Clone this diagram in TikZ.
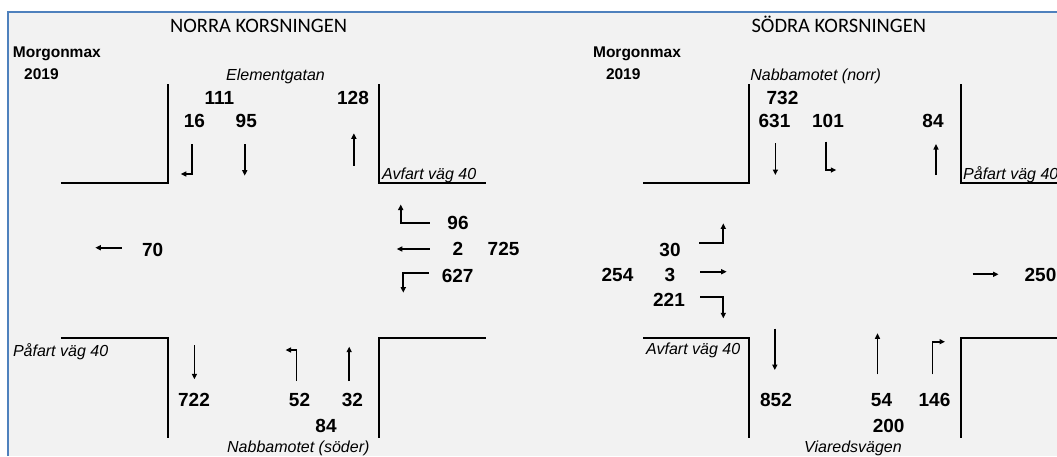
\documentclass[tikz,border=0pt]{standalone}
\usepackage{fontspec}
\setmainfont{Liberation Sans}
\newfontfamily\headfont{Carlito}
\usetikzlibrary{arrows.meta,positioning}
\tikzset{>={Triangle[width=5pt,length=5.5pt]}}
\tikzset{num/.style={font=\fontsize{19}{19}\selectfont\bfseries, inner sep=0pt,
    text height=13.6pt, text depth=0pt}}
\tikzset{tag/.style={font=\fontsize{15.5}{16}\selectfont\bfseries, inner sep=0pt,
    anchor=west, text height=11.1pt, text depth=0pt}}
\tikzset{street/.style={font=\fontsize{16}{16}\selectfont\itshape, inner sep=0pt,
    text height=11.5pt, text depth=0pt}}
\tikzset{head/.style={font=\headfont\fontsize{20.5}{21}\selectfont, inner sep=0pt,
    text height=13.2pt, text depth=0pt}}
\tikzset{road/.style={draw=black, line width=2pt}}
\tikzset{turn/.style={->, draw=black, line width=1.7pt}}
\definecolor{panel}{RGB}{242,242,242}
\definecolor{frame}{RGB}{79,129,189}

\begin{document}
\begin{tikzpicture}[x=1pt, y=-1pt]
    \useasboundingbox (0,0) rectangle (1057,456);
    \fill[white] (0,0) rectangle (1057,456);
    \fill[panel] (7.5,11.7) rectangle (1057,456);
    \draw[frame, line width=2pt] (7.5,456) -- (7.5,11.7) -- (1057,11.7);

    % headings
    \node(norra)[head] at (258.6,26.2) {NORRA KORSNINGEN};
    \node(sodra)[head] at (838.8,26.2) {SÖDRA KORSNINGEN};
    \node(mmN)[tag] at (12.7,51.7) {Morgonmax};
    \node(yrN)[tag] at (24,74.2)   {2019};
    \node(mmS)[tag] at (592.9,51.7) {Morgonmax};
    \node(yrS)[tag] at (605.8,74.2) {2019};

    % norra korsningen: kanter
    \draw[road] (60.8,183.3) -- (168,183.3) -- (168,84);
    \draw[road] (378.6,84) -- (378.6,183.3) -- (485.7,183.3);
    \draw[road] (60.8,337.7) -- (168,337.7) -- (168,437.7);
    \draw[road] (485.7,337.7) -- (378.6,337.7) -- (378.6,437.7);

    % sodra korsningen: kanter
    \draw[road] (643,183.3) -- (749,183.3) -- (749,84);
    \draw[road] (960.7,84) -- (960.7,183.3) -- (1057,183.3);
    \draw[road] (643,337.7) -- (749,337.7) -- (749,437.7);
    \draw[road] (1057,337.7) -- (960.7,337.7) -- (960.7,437.7);

    % gatunamn
    \node(elem)[street] at (275.5,74.5) {Elementgatan};
    \node(avfN)[street, anchor=west] at (382,173.8) {Avfart väg 40};
    \node(pafN)[street, anchor=west] at (12.8,351) {Påfart väg 40};
    \node(nabS)[street] at (298.3,446.5) {Nabbamotet (söder)};
    \node(nabN)[street] at (815.7,74.5) {Nabbamotet (norr)};
    \node(pafS)[street, anchor=west] at (963,174) {Påfart väg 40};
    \node(avfS)[street, anchor=west] at (646,348.7) {Avfart väg 40};
    \node(viar)[street] at (853,446.5) {Viaredsvägen};

    % flöden, norra
    \node(n111)[num] at (219.4,97.8) {111};
    \node(n128)[num] at (353,97.8)   {128};
    \node(n16)[num]  at (194.4,120.3) {16};
    \node(n95)[num]  at (246.3,120.3) {95};
    \node(n96)[num]  at (458,223)   {96};
    \node(n2)[num]   at (458,249)   {2};
    \node(n725)[num] [right=24pt of n2] {725};
    \node(n627)[num] at (457.7,275.7) {627};
    \node(n70)[num]  at (152.6,249.8) {70};
    \node(n722)[num] at (194,399.3) {722};
    \node(n52)[num]  at (299.5,399.3) {52};
    \node(n32)[num]  at (352.4,399.3) {32};
    \node(n84N)[num] at (326,426)   {84};

    % flöden, sodra
    \node(n732)[num] at (782.5,97.8) {732};
    \node(n631)[num] at (774.5,120.3) {631};
    \node(n101)[num] at (828,120.3) {101};
    \node(n84S)[num] at (933,120.3) {84};
    \node(n30)[num]  at (670,249.7) {30};
    \node(n3)[num]   at (670,275)   {3};
    \node(n254)[num] [left=31pt of n3] {254};
    \node(n221)[num] at (669,300)   {221};
    \node(n250)[num] at (1040.5,275) {250};
    \node(n852)[num] at (776,400)   {852};
    \node(n54)[num]  at (881.5,400) {54};
    \node(n146)[num] at (934.5,400) {146};
    \node(n200)[num] at (888.6,425.5) {200};

    % svangpilar, norra
    \coordinate (a16s) at (192,144);     \coordinate (a16e) at (180.8,174);
    \coordinate (a95s) at (244.7,144);   \coordinate (a95e) at (244.7,175.7);
    \coordinate (a128s) at (353.9,165.7); \coordinate (a128e) at (353.9,133.3);
    \coordinate (a96s) at (429.5,223.3);  \coordinate (a96e) at (400.7,204.5);
    \coordinate (a2s) at (429.5,249);     \coordinate (a2e) at (396.8,249);
    \coordinate (a627s) at (428.6,272.7); \coordinate (a627e) at (403.3,292.7);
    \coordinate (a70s) at (121.7,247.7); \coordinate (a70e) at (95.3,247.7);
    \coordinate (a722s) at (194.4,345.3); \coordinate (a722e) at (194.4,379.3);
    \coordinate (a52s) at (296.4,381);   \coordinate (a52e) at (285.6,350);
    \coordinate (a32s) at (349.2,381);   \coordinate (a32e) at (349.2,346.7);

    \draw [turn] (a16s) |- (a16e);
    \draw [turn] (a95s) -- (a95e);
    \draw [turn] (a128s) -- (a128e);
    \draw [turn] (a96s) -| (a96e);
    \draw [turn] (a2s) -- (a2e);
    \draw [turn] (a627s) -| (a627e);
    \draw [turn] (a70s) -- (a70e);
    \draw [turn] (a722s) -- (a722e);
    \draw [turn] (a52s) |- (a52e);
    \draw [turn] (a32s) -- (a32e);

    % svangpilar, sodra
    \coordinate (a631s) at (775.4,143.3); \coordinate (a631e) at (775.4,175);
    \coordinate (a101s) at (826,141.7);  \coordinate (a101e) at (836.3,170);
    \coordinate (a84s) at (936,175);     \coordinate (a84e) at (936,144);
    \coordinate (a30s) at (699.3,243.3); \coordinate (a30e) at (723.3,223.3);
    \coordinate (a3s) at (700,271.7);    \coordinate (a3e) at (726.7,271.7);
    \coordinate (a221s) at (700,297.3);  \coordinate (a221e) at (723.3,318.3);
    \coordinate (a250s) at (972.5,274.3); \coordinate (a250e) at (998.5,274.3);
    \coordinate (a852s) at (774.8,328.7); \coordinate (a852e) at (774.8,370);
    \coordinate (a54s) at (877.5,374.3); \coordinate (a54e) at (877.5,333.3);
    \coordinate (a146s) at (932.6,374.3); \coordinate (a146e) at (945,341.7);

    \draw [turn] (a631s) -- (a631e);
    \draw [turn] (a101s) |- (a101e);
    \draw [turn] (a84s) -- (a84e);
    \draw [turn] (a30s) -| (a30e);
    \draw [turn] (a3s) -- (a3e);
    \draw [turn] (a221s) -| (a221e);
    \draw [turn] (a250s) -- (a250e);
    \draw [turn] (a852s) -- (a852e);
    \draw [turn] (a54s) -- (a54e);
    \draw [turn] (a146s) |- (a146e);
\end{tikzpicture}
\end{document}
